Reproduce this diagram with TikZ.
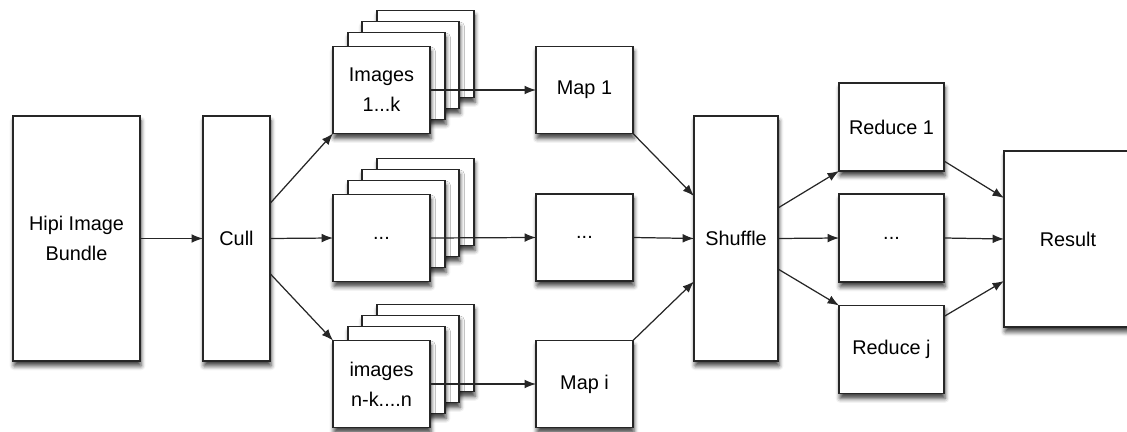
\documentclass[tikz,border=0pt]{standalone}
\usepackage{fontspec}
\setmainfont{Liberation Sans}
\usetikzlibrary{arrows.meta,shadows.blur}
\tikzset{
    blocknode/.style = {
        align=center,
        rectangle,
        draw=black!85,
        fill=white,
        line width=0.8pt,
        inner sep=0pt,
        outer sep=0pt,
        font=\fontsize{11.3}{17}\selectfont,
        blur shadow={shadow xshift=0.6pt, shadow yshift=-2.8pt,
                     shadow blur radius=2.5pt, shadow opacity=75}
    },
    tallnode/.style = {
        blocknode,
        minimum height=4.90cm
    },
    sheetnode/.style = {
        blocknode,
        minimum width=1.94cm,
        minimum height=1.74cm
    },
    mapnode/.style = {
        sheetnode
    },
    reducenode/.style = {
        blocknode,
        minimum width=2.10cm,
        minimum height=1.76cm
    },
    flow/.style = {
        draw=black!85,
        line width=0.7pt,
        -{Latex[length=6.5pt,width=5pt]}
    }
}

\begin{document}
\begin{tikzpicture}[x=0.02cm, y=-0.02cm]
    \useasboundingbox (0,0) rectangle (1127,432);

    % left blocks
    \node [tallnode, minimum width=2.54cm] (hipi) at (76.5,238.5) {Hipi Image\\Bundle};
    \node [tallnode, minimum width=1.34cm] (cull) at (236.5,238.5) {Cull};

    % stacks of images
    \foreach \s/\y in {img1/90, imgdots/238, imgn/384} {
        \foreach \dx/\dy in {44/-36, 29/-25, 15/-14} {
            \node [sheetnode] (\s-back-\dx) at (381.5+\dx,\y+\dy) {};
        }
    }
    \node [sheetnode] (img1) at (381.5,90) {Images\\1...k};
    \node [sheetnode] (imgdots) at (381.5,238) {...};
    \node [sheetnode] (imgn) at (381.5,384) {images\\n-k....n};

    % maps
    \node [mapnode] (map1) at (584.5,90) {Map 1};
    \node [mapnode] (mapdots) at (584.5,237.5) {...};
    \node [mapnode] (mapi) at (584.5,384) {Map i};

    \node [tallnode, minimum width=1.68cm] (shuffle) at (736,238.5) {Shuffle};

    % reduces
    \node [reducenode] (red1) at (891.5,127) {Reduce 1};
    \node [reducenode] (reddots) at (891.5,238) {...};
    \node [reducenode] (redj) at (891.5,349.5) {Reduce j};

    \node [blocknode, minimum width=2.56cm, minimum height=3.52cm] (result) at (1068,239) {Result};

    % connectors
    \draw [flow] (hipi) -- (cull);
    \draw [flow] ([yshift=0.70cm]cull.east) -- (img1.south west);
    \draw [flow] (cull.east) -- (imgdots.west);
    \draw [flow] ([yshift=-0.70cm]cull.east) -- (imgn.north west);

    \draw [flow] (img1.east) -- (map1.west);
    \draw [flow] (imgdots.east) -- (mapdots.west);
    \draw [flow] (imgn.east) -- (mapi.west);

    \draw [flow] (map1.south east) -- ([yshift=0.85cm]shuffle.west);
    \draw [flow] (mapdots.east) -- (shuffle.west);
    \draw [flow] (mapi.north east) -- ([yshift=-0.86cm]shuffle.west);

    \draw [flow] ([yshift=0.61cm]shuffle.east) -- (red1.south west);
    \draw [flow] (shuffle.east) -- (reddots.west);
    \draw [flow] ([yshift=-0.61cm]shuffle.east) -- (redj.north west);

    \draw [flow] ([yshift=0.20cm]red1.south east) -- ([yshift=0.82cm]result.west);
    \draw [flow] (reddots.east) -- (result.west);
    \draw [flow] ([yshift=-0.22cm]redj.north east) -- ([yshift=-0.84cm]result.west);
\end{tikzpicture}
\end{document}
